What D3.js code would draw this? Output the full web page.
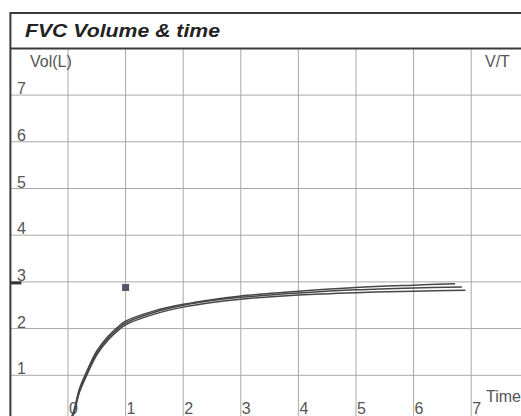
<!DOCTYPE html>
<html>
<head>
<meta charset="utf-8">
<script src="https://cdn.jsdelivr.net/npm/d3@7"></script>
<style>
  body { margin: 0; background: #fff; }
  text { font-family: "Liberation Sans", Arial, sans-serif; }
</style>
</head>
<body>
<div id="chart"></div>
<script>
// data
const yTicks = [1, 2, 3, 4, 5, 6, 7];
const xTicks = [0, 1, 2, 3, 4, 5, 6, 7];
const trialA = {
  time: [0, 0.08, 0.2, 0.31, 0.5, 0.7, 0.87, 1, 1.5, 2, 2.5, 3, 4, 5, 6, 6.72],
  vol: [0, 0.16, 0.72, 1.04, 1.52, 1.84, 2.04, 2.16, 2.38, 2.52, 2.62, 2.7, 2.8, 2.88, 2.93, 2.96]
};
const trialB = {
  time: [0, 0.08, 0.2, 0.31, 0.5, 0.7, 0.87, 1, 1.5, 2, 2.5, 3, 4, 5, 6, 6.84],
  vol: [0, 0.14, 0.68, 1.0, 1.48, 1.8, 2.0, 2.12, 2.35, 2.5, 2.6, 2.67, 2.76, 2.83, 2.87, 2.89]
};
const trialC = {
  time: [0, 0.08, 0.2, 0.31, 0.5, 0.7, 0.87, 1, 1.5, 2, 2.5, 3, 4, 5, 6, 6.9],
  vol: [0, 0.12, 0.64, 0.96, 1.44, 1.76, 1.96, 2.08, 2.31, 2.46, 2.56, 2.63, 2.72, 2.77, 2.8, 2.82]
};
const marker = { time: 1, vol: 2.88 };
const bestVol = 3;

const width = 521, height = 416;

const svg = d3.select("#chart")
  .append("svg")
  .attr("width", width)
  .attr("height", height);

// plot frame spans t = -1..8, vol = 0..8
const xScale = d3.scaleLinear().domain([-1, 8]).range([10.4, 528.8]);
const yScale = d3.scaleLinear().domain([0, 8]).range([422, 48.4]);

// grid
svg.append("g")
  .selectAll("line")
  .data(xTicks)
  .enter()
  .append("line")
  .attr("x1", d => xScale(d))
  .attr("x2", d => xScale(d))
  .attr("y1", yScale(8))
  .attr("y2", height)
  .attr("stroke", "#a8a8a8")
  .attr("stroke-width", 1);

svg.append("g")
  .selectAll("line")
  .data(yTicks)
  .enter()
  .append("line")
  .attr("x1", xScale(-1))
  .attr("x2", width)
  .attr("y1", d => yScale(d))
  .attr("y2", d => yScale(d))
  .attr("stroke", "#a8a8a8")
  .attr("stroke-width", 1);

// frame + title band
svg.append("line")
  .attr("x1", xScale(-1)).attr("x2", width)
  .attr("y1", 13).attr("y2", 13)
  .attr("stroke", "#3a3a3a").attr("stroke-width", 2);
svg.append("line")
  .attr("x1", xScale(-1)).attr("x2", width)
  .attr("y1", yScale(8)).attr("y2", yScale(8))
  .attr("stroke", "#3a3a3a").attr("stroke-width", 2);
svg.append("line")
  .attr("x1", xScale(-1)).attr("x2", xScale(-1))
  .attr("y1", 12).attr("y2", height)
  .attr("stroke", "#3a3a3a").attr("stroke-width", 2);

svg.append("text")
  .attr("x", 25)
  .attr("y", 37)
  .attr("font-size", 19)
  .attr("font-weight", "bold")
  .attr("font-style", "italic")
  .attr("fill", "#222")
  .attr("textLength", 195)
  .attr("lengthAdjust", "spacingAndGlyphs")
  .text("FVC Volume & time");

// axis labels
svg.append("g")
  .selectAll("text")
  .data(yTicks)
  .enter()
  .append("text")
  .attr("x", 17)
  .attr("y", d => yScale(d) - 1)
  .attr("font-size", 16)
  .attr("fill", "#555")
  .text(d => d);

// time labels along the bottom edge
svg.append("g")
  .selectAll("text")
  .data(xTicks)
  .enter()
  .append("text")
  .attr("x", d => xScale(d) + 1)
  .attr("y", 414)
  .attr("font-size", 16)
  .attr("fill", "#555")
  .text(d => d);

svg.append("text").attr("x", 30).attr("y", 67)
  .attr("font-size", 16).attr("fill", "#555").text("Vol(L)");
svg.append("text").attr("x", 485).attr("y", 67)
  .attr("font-size", 16).attr("fill", "#555").text("V/T");
svg.append("text").attr("x", 486).attr("y", 402)
  .attr("font-size", 16).attr("fill", "#555").text("Time");

// best volume tick on the left edge
svg.append("rect")
  .attr("x", xScale(-1))
  .attr("y", yScale(bestVol) - 0.5)
  .attr("width", 11)
  .attr("height", 3)
  .attr("fill", "#333");

// curves
const line = d3.line()
  .x(d => xScale(d[0]))
  .y(d => yScale(d[1]))
  .curve(d3.curveCatmullRom.alpha(0.5));

[trialA, trialB, trialC].forEach(tr => {
  svg.append("path")
    .datum(d3.zip(tr.time, tr.vol))
    .attr("fill", "none")
    .attr("stroke", "#474747")
    .attr("stroke-width", 1.5)
    .attr("d", line);
});

// marker square
svg.append("rect")
  .attr("x", xScale(marker.time) - 3.5)
  .attr("y", yScale(marker.vol) - 3.5)
  .attr("width", 7)
  .attr("height", 7)
  .attr("fill", "#555564");
</script>
</body>
</html>
